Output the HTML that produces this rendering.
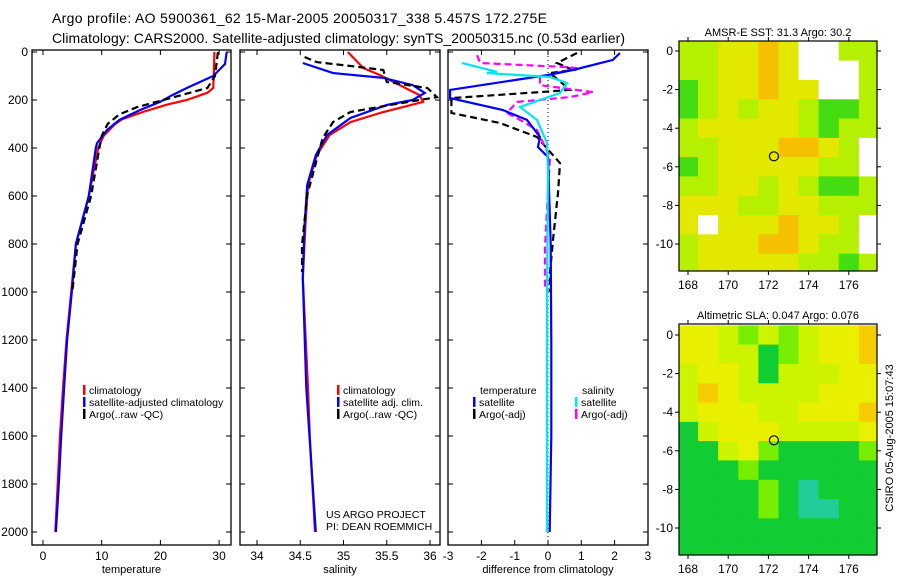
<!DOCTYPE html>
<html><head><meta charset="utf-8"><style>
body{margin:0;background:#fff;}
svg{display:block;font-family:"Liberation Sans",sans-serif;}
text{fill:#000;}
</style></head><body>
<svg id="fig" width="900" height="580" viewBox="0 0 900 580">
<text x="52" y="23" font-size="14" textLength="495">Argo profile: AO 5900361_62 15-Mar-2005 20050317_338 5.457S 172.275E</text>
<text x="52" y="43" font-size="14" textLength="573">Climatology: CARS2000. Satellite-adjusted climatology: synTS_20050315.nc (0.53d earlier)</text>
<text transform="translate(893,438) rotate(-90)" text-anchor="middle" font-size="11">CSIRO 05-Aug-2005 15:07:43</text>
</svg>
<script>
// ---------- data ----------
const tClimD=[0,100,150,170,200,220,250,280,300,350,400,600,800,1000,1200,1400,1600,1800,2000];
const tClim=[29.2,29.1,29.0,28.0,24.5,21,17,13.5,12.3,10.3,9.4,7.8,5.6,4.8,4.0,3.4,2.9,2.5,2.1];
const tSatD=[0,50,100,150,180,207,242,283,325,380,400,600,800,1000,1200,1400,1600,1800,2000];
const tSat=[31.3,31.0,29.0,24.5,22,20,16.5,13,10.9,9.2,9.0,7.8,5.6,4.9,4.1,3.6,3.1,2.7,2.2];
const tArgoD=[0,100,150,170,200,230,260,300,350,400,600,800,1000];
const tArgo=[29.8,29.3,28,25,20.5,16,13,11,10,9.6,8.2,5.9,5.0];

const sClimD=[0,67,96,180,208,250,292,346,430,554,720,942,1400,1600,2000];
const sClim=[35.05,35.23,35.42,35.88,35.92,35.46,35.08,34.84,34.69,34.59,34.56,34.53,34.59,34.61,34.67];
const sSatD=[46,88,108,138,171,200,221,275,346,430,554,720,942,1400,2000];
const sSat=[34.53,34.88,35.46,35.8,35.94,35.8,35.5,35.08,34.81,34.68,34.58,34.55,34.53,34.57,34.68];
const sArgoD=[21,42,63,75,125,150,188,221,250,292,358,596,804,917];
const sArgo=[34.55,34.69,35.19,35.46,35.5,35.97,36.08,35.54,35.08,34.88,34.76,34.58,34.52,34.52];

const dTSatD=[4,33,75,96,158,192,242,283,354,396,438,800,1200,1600,2000];
const dTSat=[2.16,1.95,0.75,0,-2.94,-2.94,-1.35,-0.63,-0.24,-0.3,0,0.08,0.1,0.1,0.05];
const dTArgoD=[4,46,75,88,158,167,192,254,296,354,463,588,783,920,1000];
const dTArgo=[0.87,0.27,0.75,0.06,0.66,-0.24,-2.9,-2.9,-1.44,-0.33,0.36,0.3,0.15,0.06,0.05];
const dSArgoD=[13,46,63,67,104,138,167,188,208,254,283,325,438,575,812,992];
const dSArgo=[-2.13,-2.04,0.57,0.87,-0.24,-0.24,1.35,0.66,-0.93,-1.23,-0.84,-0.33,0.06,0,-0.09,-0.09];
const dSSatD=[46,83,88,104,129,171,229,283,379,504,1000,1500,2000];
const dSSat=[-2.58,-1.53,-1.83,0.06,0.57,0.36,-0.84,-0.33,-0.03,0,-0.03,-0.03,-0.03];

const depthTicks=[0,200,400,600,800,1000,1200,1400,1600,1800,2000];
const tempTicks=[0,10,20,30];
const salTicks=[34,34.5,35,35.5,36];
const diffTicks=[-3,-2,-1,0,1,2,3];
const lonTicks=[168,170,172,174,176];
const latTicks=[0,-2,-4,-6,-8,-10];

// SST grid (rows lat 0.5 -> -11.5, cols lon 167.5 -> 177.5), -1 = missing
const sstGrid=[
[1,1,2,2,3,2,-1,-1,1,1],
[1,1,2,2,3,2,-1,-1,-1,1],
[0,1,2,2,3,2,2,-1,-1,1],
[0,1,2,1,2,2,1,0,0,1],
[1,2,2,2,2,2,1,0,1,1],
[1,1,2,2,2,3,3,2,1,-1],
[0,1,2,2,2,2,2,1,1,-1],
[1,1,2,2,1,2,1,0,0,1],
[2,2,2,1,1,2,2,1,1,1],
[2,-1,2,2,2,3,2,2,1,-1],
[1,2,2,2,3,3,2,1,1,-1],
[1,2,2,2,2,2,1,1,0,1]];
const slaGrid=[
[4,4,3,2,3,2,3,4,4,5],
[4,4,3,3,1,2,3,4,4,5],
[3,4,4,3,1,3,3,3,4,4],
[3,5,4,3,3,3,3,4,4,4],
[3,4,4,4,3,3,4,4,4,5],
[1,3,4,4,4,3,3,3,3,4],
[1,1,3,4,2,1,1,1,1,2],
[1,1,1,2,1,1,1,1,1,1],
[1,1,1,1,2,1,0,1,1,1],
[1,1,1,1,2,1,0,0,1,1],
[1,1,1,1,1,1,1,1,1,1],
[1,1,1,1,1,1,1,1,1,1]];
const argoLon=172.275, argoLat=-5.457;

// ---------- drawing ----------
const NS="http://www.w3.org/2000/svg";
const svg=document.getElementById('fig');
function mk(tag,attrs,parent){const e=document.createElementNS(NS,tag);for(const k in attrs)e.setAttribute(k,attrs[k]);(parent||svg).appendChild(e);return e;}

const TOP=52,BOT=545;
const yD=d=>TOP+d*0.24;

function panel(x0,x1,xs,ticks,label,tickFmt,name){
  const g=mk('g',{});
  
  
  const box=mk('rect',{x:x0,y:TOP-2,width:x1-x0,height:BOT-TOP+2,fill:'none',stroke:'#000','stroke-width':1.3},g);
  
  
  ticks.forEach(v=>{
    const x=xs(v);
    mk('line',{x1:x,x2:x,y1:BOT,y2:BOT-5,stroke:'#000'},g);
    mk('line',{x1:x,x2:x,y1:TOP-2,y2:TOP+3,stroke:'#000'},g);
    const t=mk('text',{x:x,y:BOT+15,'text-anchor':'middle','font-size':12},g);
    t.textContent=tickFmt(v);
    
    
  });
  depthTicks.forEach(d=>{
    mk('line',{x1:x0,x2:x0+5,y1:yD(d),y2:yD(d),stroke:'#000'},g);
    mk('line',{x1:x1,x2:x1-5,y1:yD(d),y2:yD(d),stroke:'#000'},g);
  });
  const t=mk('text',{x:(x0+x1)/2,y:573,'text-anchor':'middle','font-size':11},g);
  t.textContent=label;
  
  
  return g;
}
function series(g,ds,vs,xs,color,dash,name,clip){
  const pts=ds.map((d,i)=>xs(vs[i]).toFixed(1)+','+yD(d).toFixed(1)).join(' ');
  const p=mk('polyline',{points:pts,fill:'none',stroke:color,'stroke-width':2.2,'stroke-dasharray':dash||'none','clip-path':clip},g);
  
  
}
function legendEntry(g,x,y,color,txt,name){
  mk('rect',{x:x,y:y-9,width:2.5,height:10,fill:color},g);
  const t=mk('text',{x:x+6,y:y,'font-size':10.5},g);
  t.textContent=txt;
  
  
}

const defs=mk('defs',{});
[['c1',32,231],['c2',240,440],['c3',448,648]].forEach(([id,a,b])=>{
  const c=mk('clipPath',{id:id},defs);mk('rect',{x:a,y:TOP-2,width:b-a,height:BOT-TOP+2},c);
});

// depth axis labels
depthTicks.forEach(d=>{
  const t=mk('text',{x:28,y:yD(d)+4,'text-anchor':'end','font-size':12});
  t.textContent=d;
  
  
});

// panel 1 temperature
const xT=v=>43+v*5.87;
const g1=panel(32,231,xT,tempTicks,'temperature',v=>v,'temperature-panel');
series(g1,tClimD,tClim,xT,'#ff0000',null,'temp-climatology-line','url(#c1)');
series(g1,tSatD,tSat,xT,'#0000ff',null,'temp-satellite-line','url(#c1)');
series(g1,tArgoD,tArgo,xT,'#000000','7,4','temp-argo-line','url(#c1)');
legendEntry(g1,83,yD(1408)+4,'#ff0000','climatology','legend-climatology');
legendEntry(g1,83,yD(1458)+4,'#0000ff','satellite-adjusted climatology','legend-satellite');
legendEntry(g1,83,yD(1508)+4,'#000000','Argo(..raw -QC)','legend-argo');

// panel 2 salinity
const xS=v=>257+(v-34)*86.5;
const g2=panel(240,440,xS,salTicks,'salinity',v=>v,'salinity-panel');
series(g2,sClimD,sClim,xS,'#ff0000',null,'sal-climatology-line','url(#c2)');
series(g2,sSatD,sSat,xS,'#0000ff',null,'sal-satellite-line','url(#c2)');
series(g2,sArgoD,sArgo,xS,'#000000','7,4','sal-argo-line','url(#c2)');
legendEntry(g2,337,yD(1408)+4,'#ff0000','climatology','legend-climatology');
legendEntry(g2,337,yD(1458)+4,'#0000ff','satellite adj. clim.','legend-satellite');
legendEntry(g2,337,yD(1508)+4,'#000000','Argo(..raw -QC)','legend-argo');
const c1=mk('text',{x:326,y:518,'font-size':10.5},g2);c1.textContent='US ARGO PROJECT';

const c2=mk('text',{x:326,y:530,'font-size':10.5},g2);c2.textContent='PI: DEAN ROEMMICH';


// panel 3 differences
const xDf=v=>548+v*33.3;
const g3=panel(448,648,xDf,diffTicks,'difference from climatology',v=>v,'difference-panel');
mk('line',{x1:xDf(0),x2:xDf(0),y1:TOP,y2:BOT,stroke:'#000','stroke-dasharray':'1,3'},g3);
series(g3,dTArgoD,dTArgo,xDf,'#000000','7,4','diff-temp-argo-line','url(#c3)');
series(g3,dSArgoD,dSArgo,xDf,'#ff00ff','7,4','diff-sal-argo-line','url(#c3)');
series(g3,dTSatD,dTSat,xDf,'#0000ff',null,'diff-temp-satellite-line','url(#c3)');
series(g3,dSSatD,dSSat,xDf,'#00e5ee',null,'diff-sal-satellite-line','url(#c3)');
const lh1=mk('text',{x:480,y:yD(1408)+4,'font-size':10.5},g3);lh1.textContent='temperature';

const lh2=mk('text',{x:582,y:yD(1408)+4,'font-size':10.5},g3);lh2.textContent='salinity';

legendEntry(g3,473,yD(1458)+4,'#0000ff','satellite','legend-temp-satellite');
legendEntry(g3,473,yD(1508)+4,'#000000','Argo(-adj)','legend-temp-argo');
legendEntry(g3,575,yD(1458)+4,'#00e5ee','satellite','legend-sal-satellite');
legendEntry(g3,575,yD(1508)+4,'#ff00ff','Argo(-adj)','legend-sal-argo');

// maps
const lonX=l=>688+(l-168)*20.1;
function map(grid,colors,yTop,yBot,lat0y,title,name){
  const latY=la=>lat0y-la*19.3;
  const g=mk('g',{});
  
  
  const cid=name+'-clip';
  const c=mk('clipPath',{id:cid},defs);mk('rect',{x:679,y:yTop,width:198,height:yBot-yTop},c);
  const cells=mk('g',{'clip-path':'url(#'+cid+')'},g);
  grid.forEach((row,r)=>row.forEach((v,ci)=>{
    const lo=167.5+ci, la=0.5-r;
    const x=lonX(lo), y=latY(la);
    const rc=mk('rect',{x:x.toFixed(1),y:y.toFixed(1),width:20.6,height:19.8,fill:v<0?'#ffffff':colors[v]},cells);
    
    
  }));
  const circ=mk('circle',{cx:lonX(argoLon),cy:latY(argoLat),r:4.5,fill:'none',stroke:'#000','stroke-width':1.2},g);
  
  
  mk('rect',{x:679,y:yTop,width:198,height:yBot-yTop,fill:'none',stroke:'#000','stroke-width':1.2},g);
  lonTicks.forEach(l=>{
    const x=lonX(l);
    mk('line',{x1:x,x2:x,y1:yBot,y2:yBot+4,stroke:'#000'},g);
    mk('line',{x1:x,x2:x,y1:yTop,y2:yTop-4,stroke:'#000'},g);
    const t=mk('text',{x:x,y:yBot+18,'text-anchor':'middle','font-size':12},g);t.textContent=l;
    
  });
  latTicks.forEach(la=>{
    const y=latY(la);
    mk('line',{x1:679,x2:675,y1:y,y2:y,stroke:'#000'},g);
    mk('line',{x1:877,x2:881,y1:y,y2:y,stroke:'#000'},g);
    const t=mk('text',{x:673,y:y+4,'text-anchor':'end','font-size':12},g);t.textContent=la;
    
  });
  const tt=mk('text',{x:778,y:yTop-5,'text-anchor':'middle','font-size':11},g);tt.textContent=title;
  
}
map(sstGrid,['#44dd11','#b4f000','#e2e800','#f5c000'],41,271,51,'AMSR-E SST: 31.3 Argo: 30.2','sst-map');
map(slaGrid,['#22cc99','#11cc33','#77ee00','#ccf400','#e8f000','#f5cc00'],324,555,335,'Altimetric SLA: 0.047 Argo: 0.076','sla-map');
</script>
</body></html>
